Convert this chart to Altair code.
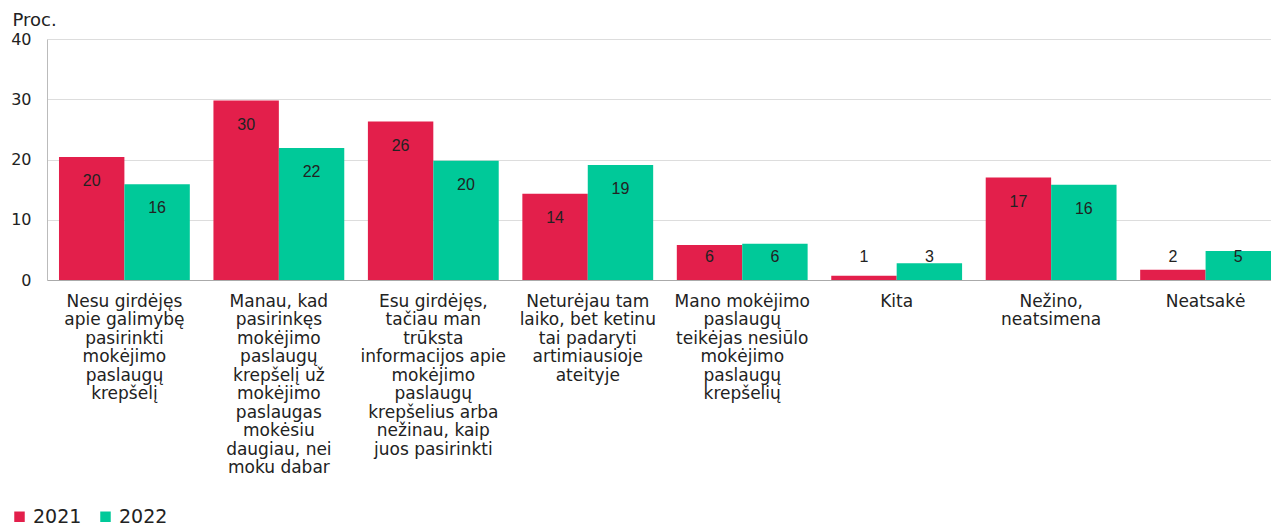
import altair as alt
import pandas as pd

categories = [
    "Nesu girdėjęs|apie galimybę|pasirinkti|mokėjimo|paslaugų|krepšelį",
    "Manau, kad|pasirinkęs|mokėjimo|paslaugų|krepšelį už|mokėjimo|paslaugas|mokėsiu|daugiau, nei|moku dabar",
    "Esu girdėjęs,|tačiau man|trūksta|informacijos apie|mokėjimo|paslaugų|krepšelius arba|nežinau, kaip|juos pasirinkti",
    "Neturėjau tam|laiko, bet ketinu|tai padaryti|artimiausioje|ateityje",
    "Mano mokėjimo|paslaugų|teikėjas nesiūlo|mokėjimo|paslaugų|krepšelių",
    "Kita",
    "Nežino,|neatsimena",
    "Neatsakė",
]
years = ["2021", "2022"]
values_2021 = [20.4, 29.8, 26.3, 14.3, 5.8, 0.7, 17.0, 1.7]
values_2022 = [15.9, 21.9, 19.8, 19.1, 6.0, 2.8, 15.8, 4.8]
labels_2021 = ["20", "30", "26", "14", "6", "1", "17", "2"]
labels_2022 = ["16", "22", "20", "19", "6", "3", "16", "5"]

rows = []
for i, c in enumerate(categories):
    rows.append({"cat": c, "year": "2021", "value": values_2021[i], "label": labels_2021[i]})
    rows.append({"cat": c, "year": "2022", "value": values_2022[i], "label": labels_2022[i]})
df = pd.DataFrame(rows)

color = alt.Color(
    "year:N",
    scale=alt.Scale(domain=years, range=["#E31F4B", "#00C999"]),
    legend=alt.Legend(
        title=None, orient="none", direction="horizontal",
        symbolType="square", symbolSize=110, labelFontSize=19,
        labelFont="DejaVu Sans", labelColor="#222222", columnPadding=14,
        symbolStrokeWidth=0, legendY=468, legendX=-37, labelOffset=4,
    ),
)

x = alt.X(
    "cat:N", sort=categories,
    scale=alt.Scale(paddingInner=0.153, paddingOuter=0.0388, align=1),
    axis=alt.Axis(
        title=None, labelAngle=0, labelExpr="split(datum.label, '|')",
        labelFont="DejaVu Sans", labelFontSize=17, labelColor="#222222",
        labelLineHeight=18.5, labelPadding=13, ticks=False,
        domainColor="#aaaaaa", labelLimit=220,
    ),
)

base = alt.Chart(df).encode(x=x, xOffset=alt.XOffset("year:N", sort=years))

bars = base.mark_bar().encode(
    y=alt.Y(
        "value:Q",
        scale=alt.Scale(domain=[0, 40]),
        axis=alt.Axis(
            values=[0, 10, 20, 30, 40], title="Proc.", titleAngle=0,
            titleAlign="left", titleBaseline="alphabetic", titleX=-35, titleY=-14,
            titleFont="DejaVu Sans", titleFontSize=18, titleFontWeight="normal",
            titleColor="#222222",
            labelFont="DejaVu Sans", labelFontSize=16, labelColor="#222222",
            ticks=False, labelPadding=16, domainColor="#bbbbbb",
            gridColor="#dddddd",
        ),
    ),
    color=color,
)

text = base.transform_calculate(
    ly="max(datum.value - 4, 3.8)"
).mark_text(
    font="Liberation Sans", fontSize=16, color="#222222", baseline="middle"
).encode(
    y="ly:Q",
    text="label:N",
)

chart = (bars + text).properties(
    width=1224, height=241,
    padding={"left": 2, "top": 3, "right": 0, "bottom": 0},
).configure_view(stroke=None)

chart.save("out.html", embed_options={"renderer": "svg", "actions": False})
